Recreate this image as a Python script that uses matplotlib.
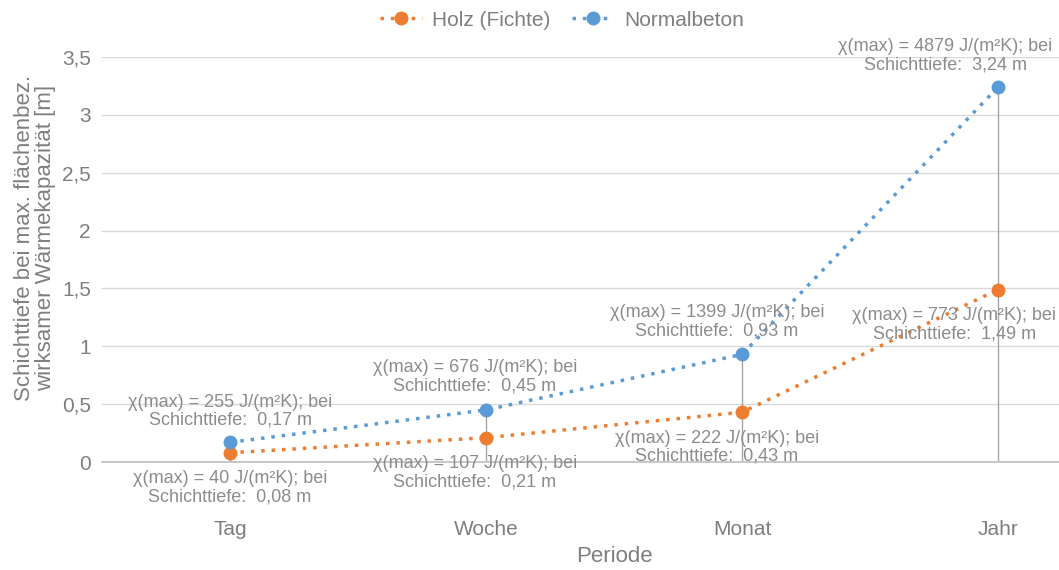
import numpy as np
import matplotlib.pyplot as plt

perioden = ['Tag', 'Woche', 'Monat', 'Jahr']
holz = [0.08, 0.21, 0.43, 1.49]
beton = [0.17, 0.45, 0.93, 3.24]
chi_holz = [40, 107, 222, 773]
chi_beton = [255, 676, 1399, 4879]

# label offsets in pixels (dx, dy) relative to the point
off_holz = [(0, -35), (-11, -35), (-25, -35), (-44, -35)]
off_beton = [(0, 31), (-11, 33), (-25, 33), (-53, 31)]

plt.rcParams['font.family'] = ['Liberation Sans', 'DejaVu Sans']
orange = '#ED7D31'
blue = '#5B9BD5'
grau = '#7F7F7F'
grau2 = '#8C8C8C'

fig = plt.figure(figsize=(10.59, 5.70), dpi=100)
ax = fig.add_axes([102 / 1059, 1 - 462 / 570, 1 - 102 / 1059, (462 - 57) / 570])

x = np.arange(len(perioden))

# drop lines
for xi, a, b in zip(x, holz, beton):
    ax.plot([xi, xi], [0, max(a, b)], color='#A6A6A6', lw=1, zorder=2)

ax.plot(x, holz, color=orange, ls=(0, (1, 2)), lw=2.5, marker='o', ms=9,
        label='Holz (Fichte)', zorder=3)
ax.plot(x, beton, color=blue, ls=(0, (1, 2)), lw=2.5, marker='o', ms=9,
        label='Normalbeton', zorder=3)


def fmt(v):
    return f'{v:.2f}'.replace('.', ',')


for xi, v, c, o in zip(x, holz, chi_holz, off_holz):
    ax.annotate(f'χ(max) = {c} J/(m²K); bei\nSchichttiefe:  {fmt(v)} m', (xi, v),
                xytext=o, textcoords='offset pixels', ha='center', va='center',
                fontsize=13, color=grau2, linespacing=1.1, zorder=4)
for xi, v, c, o in zip(x, beton, chi_beton, off_beton):
    ax.annotate(f'χ(max) = {c} J/(m²K); bei\nSchichttiefe:  {fmt(v)} m', (xi, v),
                xytext=o, textcoords='offset pixels', ha='center', va='center',
                fontsize=13, color=grau2, linespacing=1.1, zorder=4)

ax.set_xlim(-0.5, 3.238)
ax.set_ylim(0, 3.5)
ax.set_yticks(np.arange(0, 3.51, 0.5))
ax.set_yticklabels([f'{t:g}'.replace('.', ',') for t in np.arange(0, 3.51, 0.5)])
ax.set_xticks(x)
ax.set_xticklabels(perioden)
ax.tick_params(axis='y', length=0, pad=8, labelsize=15, labelcolor=grau)
ax.tick_params(axis='x', length=0, pad=42, labelsize=15, labelcolor=grau)
ax.grid(axis='y', color='#D9D9D9', lw=1)
ax.set_axisbelow(True)
for s in ['top', 'right', 'left']:
    ax.spines[s].set_visible(False)
ax.spines['bottom'].set_color('#BFBFBF')
ax.spines['bottom'].set_linewidth(1.2)

fig.text(614 / 1059, 1 - 557 / 570, 'Periode', ha='center', va='center',
         fontsize=16, color=grau)
fig.text(35 / 1059, 1 - 238 / 570,
         'Schichttiefe bei max. flächenbez.\nwirksamer Wärmekapazität [m]',
         ha='center', va='center', rotation=90, fontsize=16, color=grau,
         linespacing=0.95)

fig.legend(loc='center', bbox_to_anchor=(562 / 1059, 1 - 20 / 570), ncol=2,
           frameon=False, fontsize=15, labelcolor=grau, handlelength=2.0,
           columnspacing=1.0, handletextpad=0.5)

fig.savefig('out.png', dpi=100)
